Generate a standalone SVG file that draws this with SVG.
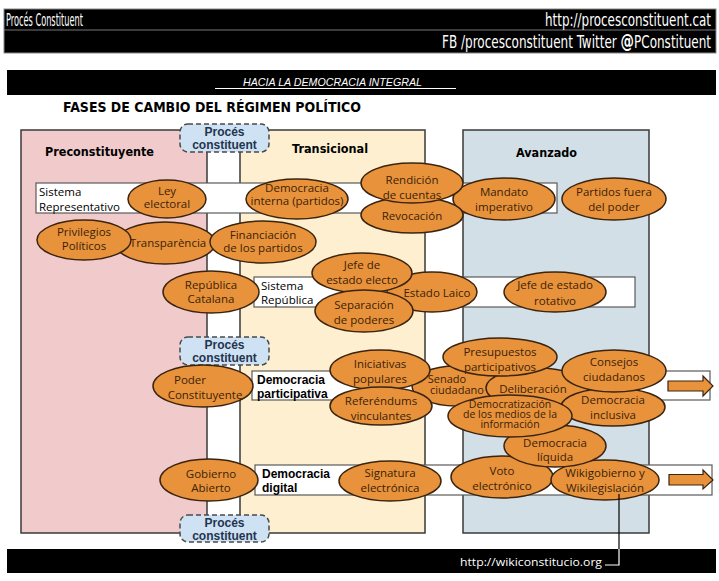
<svg xmlns="http://www.w3.org/2000/svg" width="719" height="581" viewBox="0 0 719 581">
<style>
.hdr{font-family:"DejaVu Sans Condensed","DejaVu Sans",sans-serif;font-stretch:condensed;fill:#fff}
.col{stroke:#3a3a3a;stroke-width:1.5}
.ctitle{font-family:"DejaVu Sans",sans-serif;font-weight:bold;font-size:11.5px;fill:#000}
.bar{fill:#fff;stroke:#5a5a5a;stroke-width:1.2}
.proc rect{fill:#cfe2f3;stroke:#4a4a4a;stroke-width:1.5;stroke-dasharray:5 3}
.proc text{font-family:"Liberation Sans",Arial,sans-serif;font-weight:bold;font-size:12px;fill:#1f3550;text-anchor:middle}
.el ellipse{fill:#e8923b;stroke:#3a2410;stroke-width:1.5}
.el text{font-family:"Open Sans",sans-serif;font-size:11.5px;fill:#3b2208;text-anchor:middle}
.rlab{font-family:"Open Sans",sans-serif;font-size:11.5px;fill:#000}
.blab{font-family:"Liberation Sans",Arial,sans-serif;font-weight:bold;font-size:12px;fill:#000}
.arrow{fill:#e8923b;stroke:#3a2410;stroke-width:1.2}
</style>
<rect width="719" height="581" fill="#fff"/>
<g id="header">
<rect x="4" y="9" width="712" height="44" fill="#000" stroke="#888" stroke-width="1"/>
<line x1="4" y1="30" x2="716" y2="30" stroke="#777" stroke-width="1"/>
<text class="hdr" x="6" y="26" font-size="17" textLength="77" lengthAdjust="spacingAndGlyphs">Procés Constituent</text>
<text class="hdr" x="545" y="26" font-size="17" textLength="166" lengthAdjust="spacingAndGlyphs">http://procesconstituent.cat</text>
<text class="hdr" x="442" y="48" font-size="17" textLength="269" lengthAdjust="spacingAndGlyphs">FB /procesconstituent Twitter <tspan font-weight="bold" font-size="19">@</tspan>PConstituent</text>
</g>
<g id="subheader">
<rect x="7" y="70" width="709" height="25" fill="#000"/>
<text x="243" y="86" font-family="Liberation Sans,Arial,sans-serif" font-style="italic" font-size="11" fill="#fff" textLength="179" lengthAdjust="spacingAndGlyphs">HACIA LA DEMOCRACIA INTEGRAL</text>
<line x1="215" y1="88.5" x2="456" y2="88.5" stroke="#fff" stroke-width="1"/>
</g>
<text id="title" x="63" y="112" font-family="DejaVu Sans,sans-serif" font-weight="bold" font-size="14" textLength="298" lengthAdjust="spacingAndGlyphs">FASES DE CAMBIO DEL RÉGIMEN POLÍTICO</text>

<g id="col-pre">
<rect class="col" x="21" y="130" width="186" height="403" fill="#f1cbcb"/>
<text class="ctitle" x="45" y="156" textLength="109" lengthAdjust="spacingAndGlyphs">Preconstituyente</text>
</g>
<g id="col-trans">
<rect class="col" x="240" y="130" width="185" height="403" fill="#fdefd0"/>
<text class="ctitle" x="292" y="153" textLength="76" lengthAdjust="spacingAndGlyphs">Transicional</text>
</g>
<g id="col-avan">
<rect class="col" x="463" y="130" width="186" height="403" fill="#d2dfe6"/>
<text class="ctitle" x="516" y="157" textLength="61" lengthAdjust="spacingAndGlyphs">Avanzado</text>
</g>

<g id="row-representativo">
<rect class="bar" x="36" y="183" width="521" height="30"/>
<text class="rlab" x="39" y="196">Sistema</text>
<text class="rlab" x="39" y="211">Representativo</text>
</g>
<g id="row-republica">
<rect class="bar" x="254" y="277" width="381" height="30"/>
<text class="rlab" x="261" y="290" font-size="12">Sistema</text>
<text class="rlab" x="261" y="304" font-size="12">República</text>
</g>
<g id="row-participativa">
<rect class="bar" x="252" y="371" width="458" height="29"/>
<text class="blab" x="257" y="384">Democracia</text>
<text class="blab" x="257" y="398">participativa</text>
</g>
<g id="row-digital">
<rect class="bar" x="255" y="465" width="457" height="30"/>
<text class="blab" x="262" y="478">Democracia</text>
<text class="blab" x="262" y="492">digital</text>
</g>

<g id="proces-1" class="proc">
<rect x="180" y="124" width="89" height="28" rx="8"/>
<text x="224.5" y="136">Procés</text>
<text x="224.5" y="149">constituent</text>
</g>
<g id="proces-2" class="proc">
<rect x="180" y="337" width="89" height="28" rx="8"/>
<text x="224.5" y="349">Procés</text>
<text x="224.5" y="362">constituent</text>
</g>
<g id="proces-3" class="proc">
<rect x="180" y="515" width="89" height="27" rx="8"/>
<text x="224.5" y="527">Procés</text>
<text x="224.5" y="540">constituent</text>
</g>

<g id="ley-electoral" class="el"><ellipse cx="167" cy="199" rx="39" ry="19"/><text x="167" y="195">Ley</text><text x="167" y="208">electoral</text></g>
<g id="democracia-interna" class="el"><ellipse cx="297" cy="199" rx="51" ry="20"/><text x="297" y="192">Democracia</text><text x="297" y="205">interna (partidos)</text></g>
<g id="mandato" class="el"><ellipse cx="504" cy="199" rx="51" ry="21"/><text x="504" y="196">Mandato</text><text x="504" y="211">imperativo</text></g>
<g id="revocacion" class="el"><ellipse cx="412" cy="215" rx="51" ry="18"/><text x="412" y="220">Revocación</text></g>
<g id="rendicion" class="el"><ellipse cx="412" cy="183" rx="51" ry="20"/><text x="412" y="184">Rendición</text><text x="412" y="199">de cuentas</text></g>
<g id="partidos-fuera" class="el"><ellipse cx="614" cy="199" rx="52" ry="21"/><text x="614" y="196">Partidos fuera</text><text x="614" y="211">del poder</text></g>

<g id="transparencia" class="el"><ellipse cx="165" cy="243" rx="50" ry="21"/><text x="168" y="247">Transparència</text></g>
<g id="privilegios" class="el"><ellipse cx="84" cy="240" rx="47" ry="20"/><text x="84" y="236">Privilegios</text><text x="84" y="250">Políticos</text></g>
<g id="financiacion" class="el"><ellipse cx="263" cy="242" rx="53" ry="21"/><text x="263" y="239">Financiación</text><text x="263" y="252">de los partidos</text></g>

<g id="republica-catalana" class="el"><ellipse cx="211" cy="292" rx="48" ry="21"/><text x="211" y="289">República</text><text x="211" y="303">Catalana</text></g>
<g id="estado-laico" class="el"><ellipse cx="432" cy="292" rx="45" ry="20"/><text x="437" y="297">Estado Laico</text></g>
<g id="jefe-electo" class="el"><ellipse cx="362" cy="273" rx="50" ry="20"/><text x="362" y="269">Jefe de</text><text x="362" y="284">estado electo</text></g>
<g id="separacion" class="el"><ellipse cx="364" cy="311" rx="49" ry="21"/><text x="364" y="309">Separación</text><text x="364" y="324">de poderes</text></g>
<g id="jefe-rotativo" class="el"><ellipse cx="555" cy="292" rx="51" ry="20"/><text x="555" y="289">Jefe de estado</text><text x="555" y="305">rotativo</text></g>

<g id="poder-constituyente" class="el"><ellipse cx="203" cy="386" rx="50" ry="21"/><text x="190" y="384">Poder</text><text x="205" y="399">Constituyente</text></g>
<g id="senado" class="el"><ellipse cx="456" cy="386" rx="44" ry="20"/><text x="447" y="383" style="font-size:11px">Senado</text><text x="457" y="394" style="font-size:11px">ciudadano</text></g>
<g id="iniciativas" class="el"><ellipse cx="380" cy="370" rx="50" ry="20"/><text x="380" y="368">Iniciativas</text><text x="380" y="383">populares</text></g>
<g id="referendums" class="el"><ellipse cx="381" cy="406" rx="51" ry="19"/><text x="381" y="405">Referéndums</text><text x="381" y="420">vinculantes</text></g>
<g id="deliberacion" class="el"><ellipse cx="537" cy="388" rx="51" ry="20"/><text x="533" y="393">Deliberación</text></g>
<g id="presupuestos" class="el"><ellipse cx="500" cy="357" rx="57" ry="19"/><text x="500" y="356">Presupuestos</text><text x="500" y="371">participativos</text></g>
<g id="democracia-inclusiva" class="el"><ellipse cx="613" cy="407" rx="52" ry="19"/><text x="613" y="404">Democracia</text><text x="613" y="419">inclusiva</text></g>
<g id="consejos" class="el"><ellipse cx="614" cy="371" rx="52" ry="21"/><text x="614" y="366">Consejos</text><text x="614" y="381">ciudadanos</text></g>

<g id="gobierno-abierto" class="el"><ellipse cx="209" cy="480" rx="49" ry="21"/><text x="211" y="478">Gobierno</text><text x="211" y="492">Abierto</text></g>
<g id="signatura" class="el"><ellipse cx="390" cy="481" rx="51" ry="20"/><text x="390" y="477">Signatura</text><text x="390" y="492">electrónica</text></g>
<g id="voto" class="el"><ellipse cx="502" cy="477" rx="51" ry="21"/><text x="502" y="475">Voto</text><text x="502" y="490">electrónico</text></g>
<g id="wikigobierno" class="el"><ellipse cx="605" cy="480" rx="54" ry="20"/><text x="605" y="477">Wikigobierno y</text><text x="605" y="492">Wikilegislación</text></g>
<g id="democracia-liquida" class="el"><ellipse cx="555" cy="446" rx="51" ry="21"/><text x="555" y="447">Democracia</text><text x="555" y="461">líquida</text></g>
<g id="democratizacion" class="el"><ellipse cx="510" cy="416" rx="62" ry="21"/><text x="510" y="408" style="font-size:10.5px">Democratización</text><text x="510" y="418" style="font-size:10.5px">de los medios de la</text><text x="510" y="428" style="font-size:10.5px">información</text></g>

<g id="arrows">
<polygon class="arrow" points="668,381 703,381 703,376 713,386 703,396 703,391 668,391"/>
<polygon class="arrow" points="669,474.5 703,474.5 703,470 713,480 703,489 703,485 669,485"/>
</g>

<g id="footer">
<rect x="7" y="549" width="709" height="24" fill="#000"/>
<text x="460" y="566" font-family="Open Sans,sans-serif" font-size="11.5" fill="#fff" textLength="142" lengthAdjust="spacingAndGlyphs">http://wikiconstitucio.org</text>
</g>
<g id="connectors">
<polyline points="619,494 619,549" fill="none" stroke="#000" stroke-width="1.2"/>
<polyline points="619,549 619,565 605,565" fill="none" stroke="#fff" stroke-width="1.2"/>
</g>
</svg>
